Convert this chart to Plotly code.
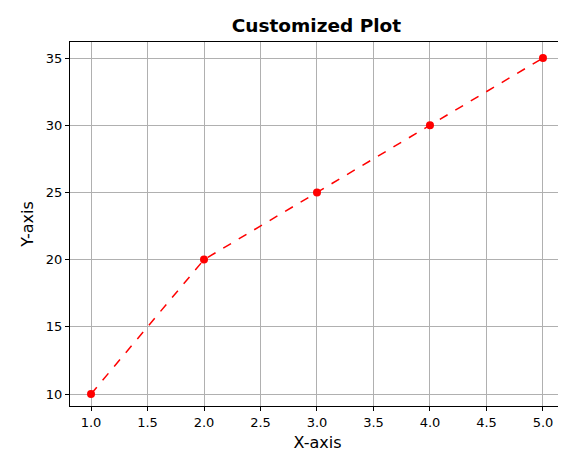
import plotly.graph_objects as go

x_vals = [1, 2, 3, 4, 5]
y_vals = [10, 20, 25, 30, 35]
x_ticks = [1.0, 1.5, 2.0, 2.5, 3.0, 3.5, 4.0, 4.5, 5.0]
x_tick_text = ["1.0", "1.5", "2.0", "2.5", "3.0", "3.5", "4.0", "4.5", "5.0"]
y_ticks = [10, 15, 20, 25, 30, 35]

fig = go.Figure(go.Scatter(
    x=x_vals, y=y_vals, mode="lines+markers",
    line=dict(color="red", dash="dash", width=1.5),
    marker=dict(color="red", size=8),
))
font = "DejaVu Sans"
fig.update_layout(
    width=566, height=460,
    margin=dict(l=62, r=9, t=34, b=62, autoexpand=False),
    paper_bgcolor="white", plot_bgcolor="white",
    font=dict(family=font, color="black", size=13),
    title=dict(text="<b>Customized Plot</b>", x=0.545, xanchor="center",
               yref="container", y=1 - 18 / 460, yanchor="middle",
               font=dict(size=18.5, family=font)),
    showlegend=False,
)
axis = dict(showline=True, linecolor="black", linewidth=1, mirror=True,
            ticks="outside", ticklen=4, tickcolor="black", automargin=False,
            showgrid=True, gridcolor="#b0b0b0", gridwidth=1, zeroline=False,
            tickfont=dict(size=13))
fig.update_xaxes(axis, range=[0.814, 5.195], tickvals=x_ticks, ticktext=x_tick_text,
                 title=dict(text="X-axis", font=dict(size=16), standoff=8))
fig.update_yaxes(axis, range=[9.11, 36.19], tickvals=y_ticks,
                 title=dict(text="Y-axis", font=dict(size=16), standoff=8))
fig.write_html("out.html")
